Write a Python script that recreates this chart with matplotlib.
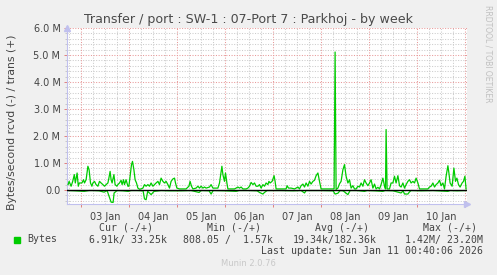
import matplotlib
matplotlib.use('Agg')
import matplotlib.pyplot as plt

# hours since 03 Jan 00:00, values in MB/s
trans_hours = [-6.5, -6, -5, -4.2, -3.4, -2.9, -2, -1.4, -0.9, 0.4, 1.2, 1.7, 2.5, 3.4, 4,
               4.7, 5.4, 5.9, 6.7, 7.5, 8.4, 9.2, 10, 10.9, 11.7, 12.5, 13.4, 13.9, 14.5, 15,
               15.5, 16.4, 17, 17.9, 18.4, 19.2, 20, 20.5, 21.2, 21.7, 22.5, 23.4, 23.9, 24.5,
               25.2, 25.7, 26.4, 27, 27.7, 28.4, 29.2, 30, 30.9, 31.7, 32.5, 33.4, 34.2, 35,
               35.9, 36.7, 37.5, 38.4, 39.2, 40, 40.9, 41.7, 42.5, 43.4, 44.2, 45, 45.9, 46.7,
               47.2, 47.9, 49.2, 50.9, 52.5, 53.9, 54.5, 55.2, 55.9, 57.5, 58.4, 59.2, 60,
               60.9, 61.7, 62.5, 64.2, 65, 65.9, 67.5, 68.4, 69.2, 69.7, 70.4, 70.9, 71.7,
               72.2, 72.9, 73.4, 76.7, 77.5, 78.4, 79.2, 80, 80.9, 82.5, 83.4, 84.2, 85, 85.9,
               86.7, 87.5, 88.4, 89.2, 90, 90.9, 91.7, 92.5, 93.4, 93.9, 94.5, 95.5, 96.5, 97,
               97.5, 100, 102.5, 103, 103.7, 105, 106.7, 107.5, 108.4, 109.2, 110, 110.9,
               111.7, 112.5, 113.4, 114.2, 115, 115.9, 116.7, 117.5, 118.4, 119.2, 120, 125.9,
               126.5, 127, 127.5, 128.4, 129.2, 130, 130.9, 131.7, 132.5, 133.4, 134.2, 135,
               135.9, 136.7, 137.5, 138.4, 139.2, 140, 140.9, 141.7, 142.5, 143.4, 144.2, 145,
               145.9, 146.7, 147.5, 148.4, 149.2, 150, 150.9, 151.7, 152.2, 152.5, 153, 154.2,
               155, 155.9, 156.7, 157.5, 158.4, 159.2, 160, 160.9, 161.7, 162.5, 163.4, 164.2,
               165, 165.9, 166.7, 167.5, 168.4, 169.2, 173.4, 174.2, 175, 175.9, 176.7, 177.5,
               178.4, 179.2, 180, 180.9, 181.7, 182.5, 183.4, 183.9, 184.5, 185.5, 186.4,
               187.2, 187.9, 188.7, 189.5, 190.5, 191.2, 191.9, 192.5]
trans_mbytes = [0.20, 0.32, 0.14, 0.32, 0.57, 0.26, 0.63, 0.14, 0.26, 0.26, 0.38, 0.26, 0.38,
                0.88, 0.75, 0.26, 0.14, 0.26, 0.32, 0.20, 0.14, 0.32, 0.26, 0.20, 0.14, 0.20,
                0.26, 0.44, 0.69, 0.38, 0.26, 0.57, 0.20, 0.14, 0.20, 0.26, 0.36, 0.20, 0.38,
                0.20, 0.38, 0.14, 0.14, 0.51, 0.94, 1.06, 0.75, 0.38, 0.26, 0.07, 0.03, 0.04,
                0.07, 0.20, 0.14, 0.20, 0.14, 0.26, 0.14, 0.20, 0.26, 0.32, 0.20, 0.44, 0.32,
                0.26, 0.32, 0.20, 0.07, 0.32, 0.41, 0.44, 0.26, 0.07, 0.04, 0.04, 0.04, 0.14,
                0.32, 0.14, 0.04, 0.07, 0.14, 0.07, 0.14, 0.07, 0.11, 0.07, 0.11, 0.20, 0.07,
                0.07, 0.07, 0.26, 0.51, 0.88, 0.57, 0.32, 0.63, 0.26, 0.04, 0.04, 0.07, 0.11,
                0.07, 0.11, 0.04, 0.04, 0.07, 0.14, 0.28, 0.20, 0.26, 0.14, 0.14, 0.20, 0.07,
                0.20, 0.14, 0.26, 0.20, 0.32, 0.26, 0.32, 0.53, 0.32, 0.04, 0.04, 0.04, 0.16,
                0.07, 0.07, 0.04, 0.07, 0.11, 0.04, 0.16, 0.22, 0.11, 0.26, 0.14, 0.32, 0.22,
                0.32, 0.36, 0.53, 0.63, 0.32, 0.04, 0.04, 0.04, 5.11, 0.02, 0.07, 0.23, 0.32,
                0.75, 0.94, 0.51, 0.26, 0.38, 0.07, 0.16, 0.04, 0.04, 0.14, 0.11, 0.26, 0.14,
                0.38, 0.26, 0.16, 0.26, 0.38, 0.07, 0.22, 0.04, 0.10, 0.04, 0.20, 0.44, 0.14,
                0.04, 2.24, 0.04, 0.04, 0.26, 0.26, 0.51, 0.26, 0.53, 0.16, 0.11, 0.26, 0.07,
                0.20, 0.32, 0.38, 0.26, 0.32, 0.26, 0.44, 0.26, 0.04, 0.04, 0.11, 0.14, 0.26,
                0.11, 0.20, 0.26, 0.36, 0.16, 0.26, 0.04, 0.51, 0.90, 0.63, 0.26, 0.14, 0.81,
                0.32, 0.44, 0.20, 0.11, 0.26, 0.32, 0.51, 0.04]

rcvd_hours = [-6.5, -3, 1.5, 4, 6, 9, 11.5, 13, 15, 16, 16.5, 18, 21, 23.5, 25, 28, 31, 31.7,
              32.5, 33.3, 35, 36.5, 40, 44, 50, 55, 59, 60, 64, 65, 66, 72, 77.5, 79, 84, 88,
              89.2, 90.9, 91.7, 93, 100, 106, 110, 111.7, 112.5, 120, 126, 127, 128.4, 129.5,
              131, 133.4, 134.5, 138, 141.7, 143, 147, 150.9, 152, 156, 160, 161, 161.7, 163.4,
              164.2, 165, 170, 176, 183.4, 184.5, 188, 192.5]
rcvd_mbytes = [0.02, 0.03, 0.05, 0.02, 0.02, 0.03, 0.08, 0.02, 0.45, 0.46, 0.11, 0.02, 0.03,
               0.05, 0.02, 0.02, 0.03, 0.33, 0.36, 0.05, 0.17, 0.05, 0.02, 0.03, 0.03, 0.02,
               0.09, 0.02, 0.03, 0.15, 0.02, 0.03, 0.05, 0.02, 0.02, 0.03, 0.09, 0.15, 0.09,
               0.02, 0.02, 0.03, 0.02, 0.11, 0.02, 0.02, 0.03, 0.15, 0.12, 0.02, 0.03, 0.17,
               0.02, 0.02, 0.05, 0.02, 0.03, 0.05, 0.02, 0.03, 0.11, 0.03, 0.15, 0.15, 0.07,
               0.02, 0.03, 0.02, 0.05, 0.02, 0.03, 0.02]

day_labels = ['03 Jan', '04 Jan', '05 Jan', '06 Jan', '07 Jan', '08 Jan', '09 Jan', '10 Jan']
y_labels = ['0.0', '1.0 M', '2.0 M', '3.0 M', '4.0 M', '5.0 M', '6.0 M']

legend_heads = ['Cur (-/+)', 'Min (-/+)', 'Avg (-/+)', 'Max (-/+)']
legend_values = ['6.91k/ 33.25k', '808.05 /  1.57k', '19.34k/182.36k', '1.42M/ 23.20M']

W, H = 497, 275
fig = plt.figure(figsize=(W / 100, H / 100), dpi=100, facecolor='#f0f0f0')


def fx(x):
    return x / W


def fy(y):
    return 1 - y / H


ax = fig.add_axes([fx(66.7), fy(203.5), 400 / W, 175.5 / H])
ax.set_facecolor('white')
ax.set_xlim(-7.2, 192.8)
ax.set_ylim(-0.5, 6.0)

# grid: minor every 6h / 0.2M, major every day / 1M
for h in range(-6, 193, 6):
    if h % 24:
        ax.axvline(h, color='#cccccc', lw=0.75, ls=(0, (1, 1.5)), zorder=1)
for i in range(-2, 30):
    v = i * 0.2
    if i % 5:
        ax.axhline(v, color='#cccccc', lw=0.75, ls=(0, (1, 1.5)), zorder=1)
for h in range(0, 193, 24):
    ax.axvline(h, color='#e89a9a', lw=0.75, ls=(0, (1, 1.5)), zorder=2)
for v in range(1, 7):
    ax.axhline(v, color='#e89a9a', lw=0.75, ls=(0, (1, 1.5)), zorder=2)

green = '#00cc00'
ax.plot(trans_hours, trans_mbytes, color=green, lw=0.9, zorder=3)
ax.plot(rcvd_hours, [-v for v in rcvd_mbytes], color=green, lw=0.9, zorder=3)
ax.axhline(0, color='black', lw=1.0, zorder=4)

for s in ['top', 'right']:
    ax.spines[s].set_visible(False)
for s in ['left', 'bottom']:
    ax.spines[s].set_color('#c0c0ee')
    ax.spines[s].set_linewidth(0.8)

ax.set_yticks(range(7))
ax.set_yticklabels(y_labels)
ax.set_yticks([i * 0.2 for i in range(-2, 30) if i % 5], minor=True)
ax.set_xticks([12 + 24 * i for i in range(len(day_labels))])
ax.set_xticklabels(day_labels)
ax.set_xticks(range(0, 193, 24), minor=True)
ax.tick_params(axis='x', which='major', length=0, pad=6, labelsize=7, labelcolor='#444444')
ax.tick_params(axis='x', which='minor', length=2.5, color='#e08080', width=0.7)
ax.tick_params(axis='y', which='major', length=2.5, color='#e08080', width=0.7, pad=2,
               labelsize=7, labelcolor='#444444')
ax.tick_params(axis='y', which='minor', length=1.5, color='#c8c8c8', width=0.7)

# axis arrows
ax.plot([1.0], [0.0], marker='>', ms=4, color='#c0c0ee', transform=ax.transAxes,
        clip_on=False, zorder=5)
ax.plot([0.0], [1.0], marker='^', ms=4, color='#c0c0ee', transform=ax.transAxes,
        clip_on=False, zorder=5)

fig.text(fx(249), fy(19), 'Transfer / port : SW-1 : 07-Port 7 : Parkhoj - by week',
         ha='center', va='center', fontsize=9.05, color='#4a4a4a')
fig.text(fx(12), fy(122), 'Bytes/second rcvd (-) / trans (+)', rotation=90,
         ha='center', va='center', fontsize=7.8, color='#444444')
fig.text(fx(488), fy(5), 'RRDTOOL / TOBI OETIKER', rotation=270, ha='center', va='top',
         fontsize=5.5, color='#c0c0c0')

mono = dict(family='DejaVu Sans Mono', fontsize=7.1, color='#444444', va='center')
for x, t in zip([99, 207, 315, 423], legend_heads):
    fig.text(fx(x), fy(228), t, ha='left', **mono)
fig.patches.append(plt.Rectangle((fx(14), fy(242.5)), 6 / W, 6 / H, color=green,
                                 transform=fig.transFigure, figure=fig))
fig.text(fx(27), fy(239.5), 'Bytes', ha='left', **mono)
for x, t in zip([89, 183, 293, 405], legend_values):
    fig.text(fx(x), fy(239.5), t, ha='left', **mono)
fig.text(fx(483), fy(251), 'Last update: Sun Jan 11 00:40:06 2026', ha='right', **mono)
fig.text(fx(248), fy(264), 'Munin 2.0.76', ha='center', va='center', fontsize=6,
         color='#c8c8c8')

fig.savefig('out.png', dpi=100, facecolor=fig.get_facecolor())
